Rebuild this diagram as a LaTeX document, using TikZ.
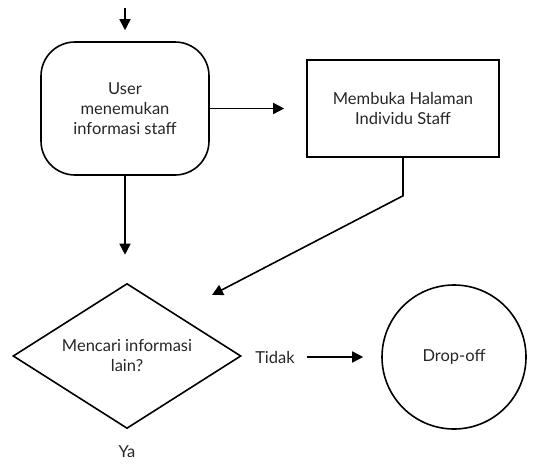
\documentclass[tikz,border=0pt]{standalone}
\usepackage{fontspec}
\setmainfont{Lato}
\usetikzlibrary{arrows.meta,positioning,shapes.geometric}

\begin{document}
\begin{tikzpicture}
[x=1pt,y=-1pt,
every node/.style={font=\fontsize{16.5}{20}\selectfont,text=black!85,align=center},
box/.style={draw,line width=1.6pt,inner sep=0pt},
arr/.style={line width=1.6pt,-{Triangle[length=11pt,width=11pt]}}]
\useasboundingbox (0,0) rectangle (545,463);
% nodes
\node[box,rounded corners=34pt,minimum width=168pt,minimum height=133pt] (user) at (125,108.5) {User\\menemukan\\informasi staff};
\node[box,minimum width=192pt,minimum height=97pt] (membuka) at (403,108.5) {Membuka Halaman\\Individu Staff};
\node[box,diamond,aspect=1.57,minimum width=228pt,minimum height=145pt] (cari) at (127,356) {Mencari informasi\\lain?};
\node[box,circle,minimum size=144pt] (drop) at (454,357) {Drop-off};
\node (tidak) at (275,357) {Tidak};
\node (ya) at (127,452) {Ya};
\coordinate (start) at (125,8);
\coordinate (masuk) at (212,295);
% connectors
\draw[arr,shorten >=11pt] (start) -- (user.north);
\draw[arr,shorten >=22pt] (user.east) -- (user.east -| membuka.west);
\draw[arr,shorten >=28pt] (user.south) -- (user.south |- cari.north);
\draw[arr] (membuka.south) -- ++(0,38) -- (masuk);
\draw[arr,shorten <=9pt,shorten >=18pt] (tidak.east) -- (tidak.east -| drop.west);
\end{tikzpicture}
\end{document}
